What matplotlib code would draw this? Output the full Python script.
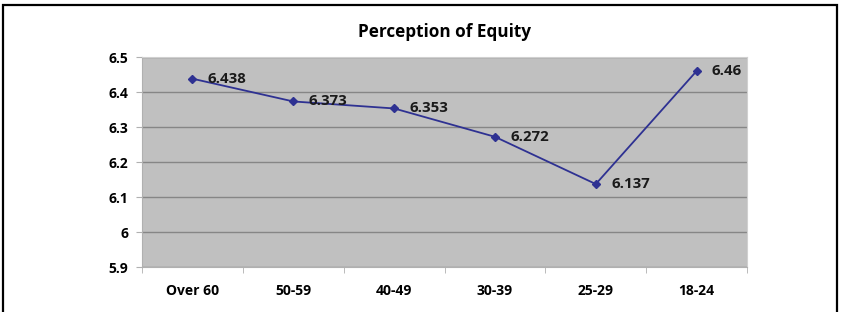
import numpy as np
import matplotlib

matplotlib.use("Agg")
import matplotlib.pyplot as plt
from matplotlib.patches import Rectangle

categories = ["Over 60", "50-59", "40-49", "30-39", "25-29", "18-24"]
scores = [6.438, 6.373, 6.353, 6.272, 6.137, 6.46]
score_labels = ["6.438", "6.373", "6.353", "6.272", "6.137", "6.46"]
y_ticks = [5.9, 6.0, 6.1, 6.2, 6.3, 6.4, 6.5]
y_tick_labels = ["5.9", "6", "6.1", "6.2", "6.3", "6.4", "6.5"]

plt.rcParams["font.family"] = ["Open Sans", "DejaVu Sans"]

fig = plt.figure(figsize=(8.47, 3.12), dpi=100)
ax = fig.add_axes([0.1677, 0.1442, 0.7143, 0.6731])
ax.set_facecolor("#c0c0c0")

x = np.arange(len(categories))
ax.plot(x, scores, color="#2e3192", linewidth=1.3, marker="D", markersize=4.5, zorder=3)
for xi, yi, lab in zip(x, scores, score_labels):
    ax.annotate(lab, (xi, yi), xytext=(11, 0), textcoords="offset points",
                ha="left", va="center", fontsize=10.8, fontweight="bold", color="#1a1a1a", zorder=4)

ax.set_xlim(-0.5, len(categories) - 0.5)
ax.set_ylim(5.9, 6.5)
ax.set_yticks(y_ticks)
ax.set_yticklabels(y_tick_labels, fontsize=10, fontweight="bold")
ax.set_xticks(x)
ax.set_xticklabels(categories, fontsize=10, fontweight="bold")
ax.tick_params(axis="x", length=0, pad=12)
ax.set_xticks(np.arange(-0.5, len(categories), 1.0), minor=True)
ax.tick_params(axis="x", which="minor", length=4, color="#b0b0b0")
ax.tick_params(axis="y", length=4, color="#b0b0b0", pad=6)
ax.yaxis.grid(True, color="#868686", linewidth=1.0)
ax.set_axisbelow(True)
for side in ["left", "bottom"]:
    ax.spines[side].set_color("#b0b0b0")
for side in ["top", "right"]:
    ax.spines[side].set_color("#d0d0d0")

fig.text(0.525, 0.897, "Perception of Equity", ha="center", va="center", fontsize=12.3, fontweight="bold")

# outer frame
fig.patches.append(Rectangle((3 / 847, -0.05), 834 / 847, 1.05 - 5 / 312, transform=fig.transFigure,
                             fill=False, edgecolor="black", linewidth=1.6))

fig.savefig("out.png", dpi=100)
